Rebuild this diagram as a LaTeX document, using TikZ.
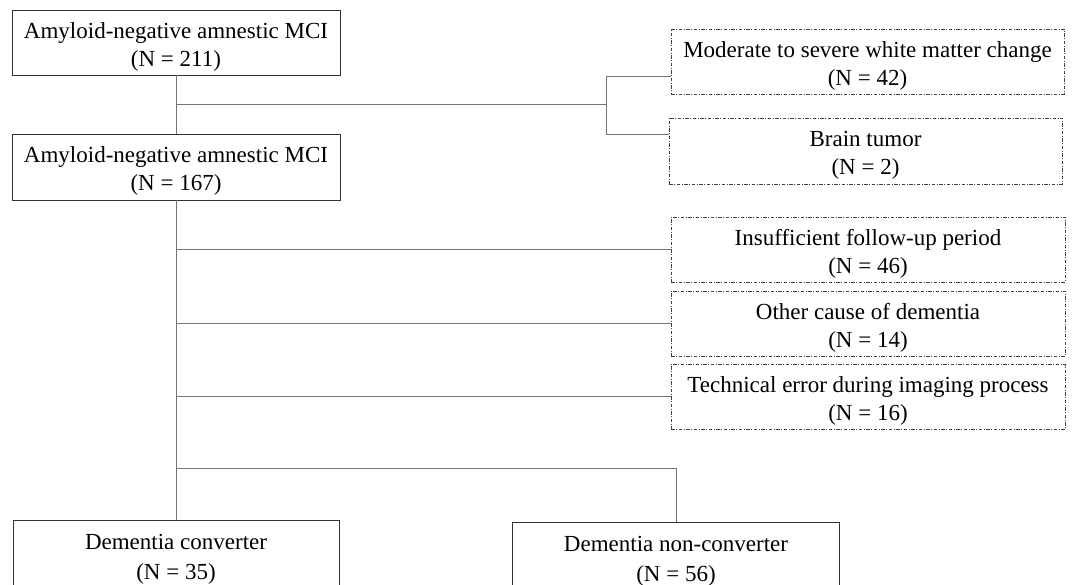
\documentclass[tikz,border=0pt]{standalone}
\usepackage{fontspec}
\setmainfont{Liberation Serif}
\newcommand\topstrut{\rule{0pt}{24.5pt}}
\begin{document}
\begin{tikzpicture}[x=1pt,y=-1pt,
  box/.style={draw=black!80,line width=0.9pt,rectangle,align=center,inner sep=0pt,
    font=\fontsize{23}{28}\selectfont},
  exbox/.style={box,draw=black!75,dash pattern=on 3.5pt off 1.5pt on 1pt off 1.5pt},
  conn/.style={draw=black!55,line width=0.9pt}]
\useasboundingbox (0,0) rectangle (1073,585);
\clip (0,0) rectangle (1073,585);
\node[box,minimum width=328pt,minimum height=65pt] (a1) at (176,42.5) {\topstrut Amyloid-negative amnestic MCI\\(N = 211)};
\node[box,minimum width=328pt,minimum height=66pt] (a2) at (176,167) {\topstrut Amyloid-negative amnestic MCI\\(N = 167)};
\node[exbox,minimum width=393pt,minimum height=65pt] (e1) at (867.5,61.5) {\topstrut Moderate to severe white matter change\\(N = 42)};
\node[exbox,minimum width=393pt,minimum height=66pt] (e2) at (865.5,151) {\topstrut Brain tumor\\(N = 2)};
\node[exbox,minimum width=394pt,minimum height=65pt] (e3) at (868,249.5) {\topstrut Insufficient follow-up period\\(N = 46)};
\node[exbox,minimum width=394pt,minimum height=65pt] (e4) at (868,323.5) {\topstrut Other cause of dementia\\(N = 14)};
\node[exbox,minimum width=394pt,minimum height=65pt] (e5) at (868,396.5) {\topstrut Technical error during imaging process\\(N = 16)};
\node[box,minimum width=326pt,minimum height=78pt,font=\fontsize{23}{30}\selectfont] (d1) at (176,559) {Dementia converter\\(N = 35)};
\node[box,minimum width=327pt,minimum height=78pt,font=\fontsize{23}{30}\selectfont] (d2) at (676,561) {Dementia non-converter\\(N = 56)};
\coordinate (j1) at (176,104);
\coordinate (b1) at (606,104);
\coordinate (y1) at (606,76);
\coordinate (y2) at (606,134);
\coordinate (j2) at (176,468);
\draw[conn] (a1.south) -- (a2.north);
\draw[conn] (j1) -- (b1);
\draw[conn] (y1) -- (y2);
\draw[conn] (y1) -- (e1.west |- y1);
\draw[conn] (y2) -- (e2.west |- y2);
\draw[conn] (a2.south) -- (d1.north);
\draw[conn] (a2.south |- e3.west) -- (e3.west);
\draw[conn] (a2.south |- e4.west) -- (e4.west);
\draw[conn] (a2.south |- e5.west) -- (e5.west);
\draw[conn] (j2) -| (d2.north);
\end{tikzpicture}
\end{document}
